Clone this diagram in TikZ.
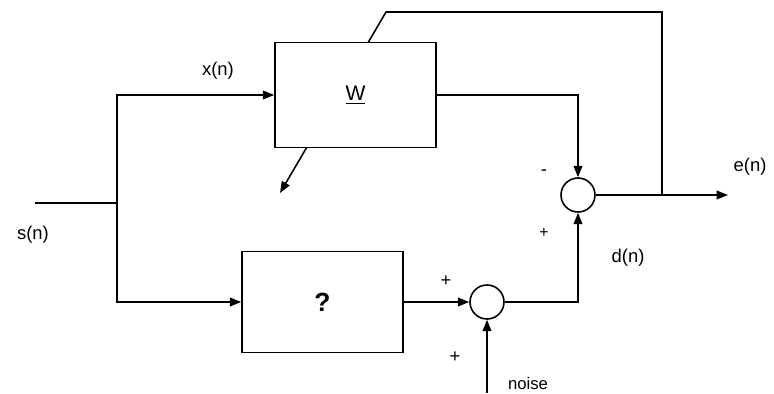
\documentclass[tikz,border=0pt]{standalone}
\usepackage{fontspec}
\setmainfont{Liberation Sans}
\usetikzlibrary{arrows.meta,backgrounds}

\begin{document}
\begin{tikzpicture}[x=0.02cm,y=-0.02cm,
  block/.style={draw,fill=white,line width=0.9pt,minimum width=3.22cm,minimum height=2.1cm,inner sep=0pt},
  sum/.style={draw,circle,fill=white,line width=0.9pt,minimum size=0.68cm,inner sep=0pt},
  sig/.style={line width=0.9pt,-{Triangle[length=6.5pt,width=5pt]}},
  wire/.style={line width=0.9pt},
  lbl/.style={font=\fontsize{10.5}{12}\selectfont,inner sep=1pt},
]
\useasboundingbox (0,0) rectangle (774,393);
% blocks
\node[block] (filt) at (355.5,95) {\fontsize{12}{14}\selectfont\underline{W}};
\node[block,minimum height=2.02cm] (plant) at (322.5,302) {\fontsize{15}{17}\selectfont\textbf{?}};
\node[sum] (sumd) at (578,195) {};
\node[sum] (sumn) at (487,302) {};
% free ends
\coordinate (sin) at (35,203);
\coordinate (split) at (117,203);
\coordinate (tap) at (662,195);
\coordinate (kink) at (386,12);
\coordinate (adapt) at (280,193);
\coordinate (nin) at (487,393);
\coordinate (eout) at (728,195);
% adaptation path behind W
\begin{scope}[on background layer]
\draw[sig] (tap) |- (kink) -- (adapt);
\end{scope}
% signals
\draw[wire] (sin) -- (split);
\draw[sig] (split) |- (filt.west);
\draw[sig] (split) |- (plant.west);
\draw[sig] (filt.east) -| (sumd.north);
\draw[sig] (plant.east) -- (sumn.west);
\draw[sig] (sumn.east) -| (sumd.south);
\draw[sig] (nin) -- (sumn.south);
\draw[sig] (sumd.east) -- (eout);
% labels
\node[lbl] (xlab) at (218,71) {x(n)};
\node[lbl] (slab) at (33,235) {s(n)};
\node[lbl] (elab) at (750,167) {e(n)};
\node[lbl] (dlab) at (628,258) {d(n)};
\node[lbl] (minus) at (544,173) {-};
\node[lbl] (plusd) at (544,233) {\fontsize{9}{10}\selectfont+};
\node[lbl] (plusx) at (446,281) {+};
\node[lbl] (plusn) at (455,357) {+};
\node[lbl,font=\fontsize{9.5}{11}\selectfont] (nlab) at (528,384) {noise};
\end{tikzpicture}
\end{document}
